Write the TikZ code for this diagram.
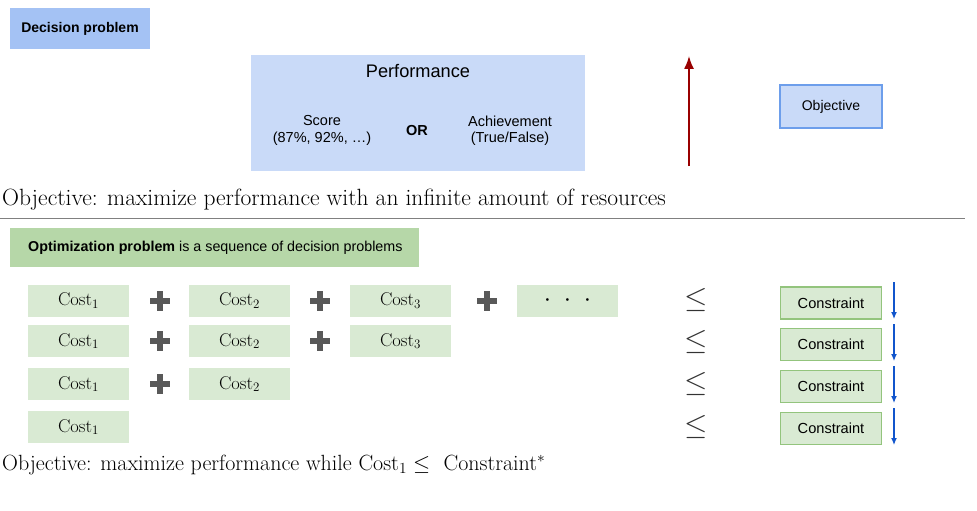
\RequirePackage{fix-cm}
\documentclass[tikz,border=0pt]{standalone}
\usepackage{fontspec}
\newfontfamily\arial{Liberation Sans}
\definecolor{dpblue}{HTML}{A4C2F4}
\definecolor{lblue}{HTML}{C9DAF8}
\definecolor{bblue}{HTML}{6D9EEB}
\definecolor{hgreen}{HTML}{B6D7A8}
\definecolor{lgreen}{HTML}{D9EAD3}
\definecolor{bgreen}{HTML}{93C47D}
\definecolor{dred}{HTML}{990000}
\definecolor{arblue}{HTML}{1155CC}
\definecolor{plusgray}{HTML}{595959}
\tikzset{
  costbox/.style={fill=lgreen, minimum width=101pt, minimum height=32pt, inner sep=0pt, font=\fontsize{18.5}{20}\selectfont},
  consbox/.style={fill=lgreen, draw=bgreen, line width=1.8pt, minimum width=101pt, minimum height=32pt, inner sep=0pt, font=\arial\fontsize{14.6}{16}\selectfont},
  plussign/.style={minimum size=20pt, inner sep=0pt, path picture={
    \fill[plusgray] ([xshift=-10pt,yshift=-3pt]path picture bounding box.center) rectangle ++(20pt,6pt);
    \fill[plusgray] ([xshift=-3pt,yshift=-10pt]path picture bounding box.center) rectangle ++(6pt,20pt);}},
  leqsign/.style={font=\fontsize{30}{32}\selectfont, inner sep=0pt, text=black!80},
  downarrow/.style={draw=arblue, line width=1.2pt, -{Latex[length=7pt,width=6pt]}},
  bigtext/.style={font=\fontsize{23.5}{26}\selectfont, anchor=base west, inner sep=0pt}
}
\usetikzlibrary{arrows.meta}
\begin{document}
\begin{tikzpicture}[x=1pt,y=-1pt]
\useasboundingbox (0,0) rectangle (977,511);
% Decision section
\node[fill=dpblue, minimum width=140pt, minimum height=41pt, inner sep=0pt, font=\arial\bfseries\fontsize{14}{16}\selectfont] (dp) at (80,28.5) {Decision problem};
\node[fill=lblue, minimum width=334pt, minimum height=116pt, inner sep=0pt] (perf) at (418,113) {};
\node[font=\arial\fontsize{18.2}{21}\selectfont] (perftitle) at (418,71) {Performance};
\node[font=\arial\fontsize{14.5}{16.5}\selectfont, align=center] (score) at (322,130.5) {Score\\(87\%, 92\%, \dots)};
\node[font=\arial\bfseries\fontsize{14.5}{16.5}\selectfont] (or) at (417,130.5) {OR};
\node[font=\arial\fontsize{14.5}{16.5}\selectfont, align=center] (ach) at (510,130.5) {Achievement\\(True/False)};
\coordinate (rb) at (689,166);
\coordinate (rt) at (689,56);
\draw[dred, line width=1.6pt, -{Latex[length=13pt,width=10pt]}] (rb) -- (rt);
\node[fill=lblue, draw=bblue, line width=1.8pt, minimum width=102pt, minimum height=43pt, inner sep=0pt, font=\arial\fontsize{14}{16}\selectfont] (obj) at (831,106.5) {Objective};
\node[bigtext] (obj1) at (2,205) {Objective: maximize performance with an infinite amount of resources};
\coordinate (hl) at (0,218);
\coordinate (hr) at (965,218);
\draw[gray, line width=1pt] (hl) -- (hr);
% Optimization section
\node[fill=hgreen, minimum width=409pt, minimum height=39pt, inner sep=0pt] (opt) at (214.5,247.5) {};
\node[anchor=west, inner sep=0pt, font=\arial\fontsize{14.3}{16}\selectfont] (opttext) at (28,247.5) {\textbf{Optimization problem} is a sequence of decision problems};
% row 1
\node[costbox] (a1) at (78.5,300.5) {Cost$_1$};
\node[plussign] (p11) at (160,300.5) {};
\node[costbox] (a2) at (239.5,300.5) {Cost$_2$};
\node[plussign] (p12) at (320,300.5) {};
\node[costbox] (a3) at (400.5,300.5) {Cost$_3$};
\node[plussign] (p13) at (487,300.5) {};
\node[costbox, font=\fontsize{26}{28}\selectfont] (a4) at (567.5,300.5) {$\cdot\hspace{7pt}\cdot\hspace{7pt}\cdot$};
% row 2
\node[costbox] (b1) at (78.5,341) {Cost$_1$};
\node[plussign] (p21) at (160,341) {};
\node[costbox] (b2) at (239.5,341) {Cost$_2$};
\node[plussign] (p22) at (320,341) {};
\node[costbox] (b3) at (400.5,341) {Cost$_3$};
% row 3
\node[costbox] (c1) at (78.5,384) {Cost$_1$};
\node[plussign] (p31) at (160,384) {};
\node[costbox] (c2) at (239.5,384) {Cost$_2$};
% row 4
\node[costbox] (d1) at (78.5,427) {Cost$_1$};
% leq
\node[leqsign] (l1) at (696,300) {$\leq$};
\node[leqsign] (l2) at (696,342) {$\leq$};
\node[leqsign] (l3) at (696,384) {$\leq$};
\node[leqsign] (l4) at (696,427) {$\leq$};
% constraints
\node[consbox] (k1) at (831,303) {Constraint};
\node[consbox] (k2) at (831,344.5) {Constraint};
\node[consbox] (k3) at (831,386.5) {Constraint};
\node[consbox] (k4) at (831,428.5) {Constraint};
\foreach \i/\y in {1/282,2/324,3/366,4/408}{
  \coordinate (t\i) at (894,\y);
  \coordinate (u\i) at (894,\y+37);
  \draw[downarrow] (t\i) -- (u\i);
}
\node[bigtext, font=\fontsize{22}{24}\selectfont] (obj2) at (2,470) {Objective: maximize performance while Cost$_1\leq$\ \ Constraint$^*$};
\end{tikzpicture}
\end{document}
